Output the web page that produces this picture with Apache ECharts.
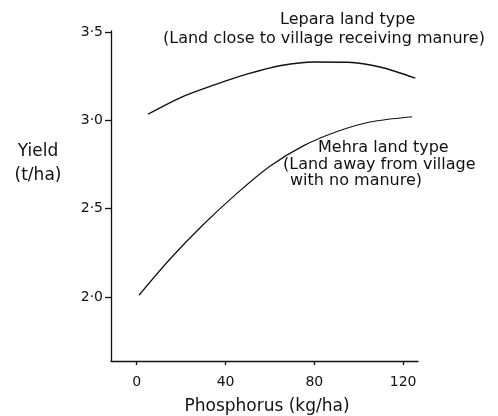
<!DOCTYPE html>
<html>
<head>
<meta charset="utf-8">
<script src="https://cdn.jsdelivr.net/npm/echarts@6/dist/echarts.min.js"></script>
<style>html,body{margin:0;padding:0;background:#fff}#c{width:498px;height:416px}</style>
</head>
<body>
<div id="c"></div>
<script>
var xTicks = [0, 40, 80, 120];
var yTicks = [2.0, 2.5, 3.0, 3.5];
var leparaX = [5, 20, 35, 50, 65, 80, 95, 110, 125.5];
var leparaY = [3.034, 3.13, 3.20, 3.262, 3.31, 3.33, 3.328, 3.30, 3.238];
var mehraX = [1, 15, 30, 45, 60, 75, 90, 105, 124];
var mehraY = [2.01, 2.215, 2.41, 2.585, 2.74, 2.855, 2.935, 2.99, 3.02];

function pairs(xs, ys) { return xs.map(function (x, i) { return [x, ys[i]]; }); }

var FONT = 'DejaVu Sans';
var INK = '#111';
function f(px) { return px + 'px "' + FONT + '"'; }
var chart = echarts.init(document.getElementById('c'), null, {renderer: 'canvas'});
chart.setOption({
  backgroundColor: '#fff',
  animation: false,
  grid: {left: 111, right: 80, top: 31, bottom: 55, containLabel: false},
  xAxis: {
    type: 'value', min: -11.6, max: 126.7,
    splitLine: {show: false},
    axisLine: {show: true, onZero: false, lineStyle: {color: INK, width: 1.3}},
    axisTick: {show: true, length: 4, inside: false, lineStyle: {color: INK, width: 1.3}, customValues: xTicks},
    axisLabel: {customValues: xTicks, color: INK, fontFamily: FONT, fontSize: 14, margin: 14}
  },
  yAxis: {
    type: 'value', min: 1.638, max: 3.505,
    splitLine: {show: false},
    axisLine: {show: true, onZero: false, lineStyle: {color: INK, width: 1.3}},
    axisTick: {show: true, length: 6, lineStyle: {color: INK, width: 1.3}, customValues: yTicks},
    axisLabel: {customValues: yTicks, color: INK, fontFamily: FONT, fontSize: 14, margin: 8,
      formatter: function (v) { return v.toFixed(1).replace('.', '\u00b7'); }}
  },
  series: [
    {type: 'line', name: 'Lepara', data: pairs(leparaX, leparaY), smooth: 0.3, showSymbol: false,
     lineStyle: {color: INK, width: 1.4}},
    {type: 'line', name: 'Mehra', data: pairs(mehraX, mehraY), smooth: 0.3, showSymbol: false,
     lineStyle: {color: INK, width: 1.2}}
  ],
  graphic: [
    {type: 'text', left: 280, top: 12, style: {text: 'Lepara land type', font: f(16), fill: INK}},
    {type: 'text', left: 163, top: 31, style: {text: '(Land close to village receiving manure)', font: f(16), fill: INK}},
    {type: 'text', left: 318, top: 140, style: {text: 'Mehra land type', font: f(16), fill: INK}},
    {type: 'text', left: 283, top: 157, style: {text: '(Land away from village', font: f(16), fill: INK}},
    {type: 'text', left: 290, top: 173, style: {text: 'with no manure)', font: f(16), fill: INK}},
    {type: 'text', x: 38, y: 140, style: {text: 'Yield\n(t/ha)', font: f(17), fill: INK, align: 'center', lineHeight: 24}},
    {type: 'text', x: 267, y: 398, style: {text: 'Phosphorus (kg/ha)', font: f(17), fill: INK, align: 'center'}}
  ]
});
</script>
</body>
</html>
